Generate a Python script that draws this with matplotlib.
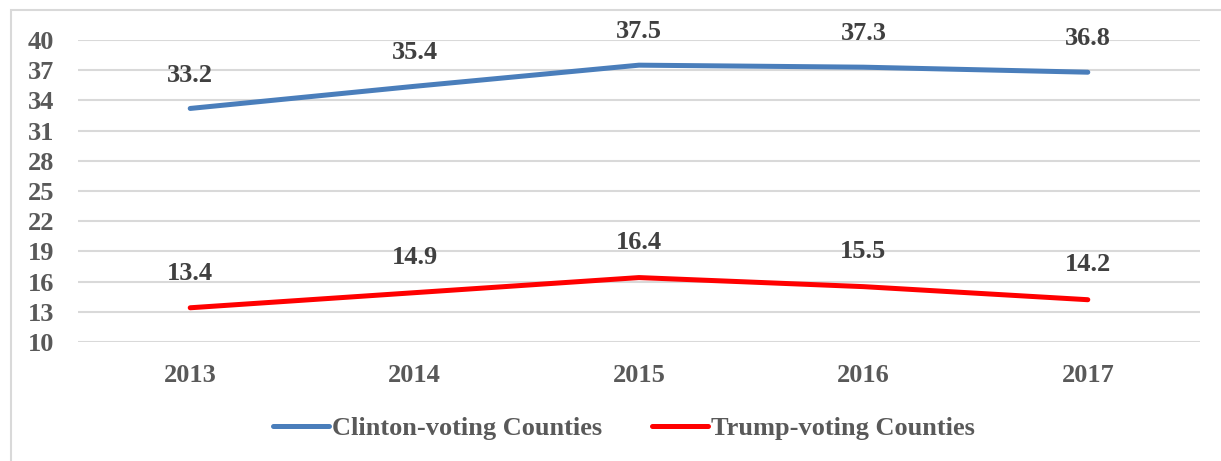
import matplotlib.pyplot as plt
from matplotlib.patches import Rectangle
from matplotlib.lines import Line2D

years = ["2013", "2014", "2015", "2016", "2017"]
clinton = [33.2, 35.4, 37.5, 37.3, 36.8]
trump = [13.4, 14.9, 16.4, 15.5, 14.2]
yticks = [10, 13, 16, 19, 22, 25, 28, 31, 34, 37, 40]

plt.rcParams['font.family'] = ['Liberation Serif', 'DejaVu Serif']
plt.rcParams['font.weight'] = 'bold'

W, H = 1221, 461
fig = plt.figure(figsize=(W / 100, H / 100), dpi=100)

# outer chart border (runs off the right/bottom edge like the reference crop)
fig.patches.append(Rectangle((11 / W, -0.1), 1.2, 1 - 10 / H + 0.1,
                             transform=fig.transFigure, fill=False,
                             edgecolor='#D9D9D9', linewidth=1.5))

ax = fig.add_axes([78 / W, 1 - 342 / H, (1200 - 78) / W, (342 - 40) / H])
x = list(range(len(years)))

ax.plot(x, clinton, color='#4A7EBB', linewidth=3.6, solid_capstyle='round')
ax.plot(x, trump, color='#FF0000', linewidth=3.6, solid_capstyle='round')

for xi, v in zip(x, clinton):
    ax.annotate(f"{v}", (xi, v), xytext=(0, 24), textcoords='offset points',
                ha='center', va='center', fontsize=19, fontweight='bold', color='#404040')
for xi, v in zip(x, trump):
    ax.annotate(f"{v}", (xi, v), xytext=(0, 25), textcoords='offset points',
                ha='center', va='center', fontsize=19, fontweight='bold', color='#404040')

ax.set_xlim(-0.5, len(years) - 0.5)
ax.set_ylim(10, 40)
ax.set_yticks(yticks)
ax.set_xticks(x)
ax.set_xticklabels(years)
ax.grid(axis='y', color='#D9D9D9', linewidth=1.5)
ax.set_axisbelow(True)
for s in ax.spines.values():
    s.set_visible(False)
ax.tick_params(length=0, labelsize=19, colors='#595959')
ax.tick_params(axis='y', pad=17)
ax.tick_params(axis='x', pad=16)
for lbl in ax.get_xticklabels() + ax.get_yticklabels():
    lbl.set_fontweight('bold')

handles = [Line2D([], [], color='#4A7EBB', linewidth=3.6, solid_capstyle='round'),
           Line2D([], [], color='#FF0000', linewidth=3.6, solid_capstyle='round')]
leg = fig.legend(handles, ["Clinton-voting Counties", "Trump-voting Counties"],
                 loc='center', bbox_to_anchor=(624 / W, 1 - 428 / H), ncol=2,
                 frameon=False, fontsize=19, handlelength=2.1, handletextpad=0.12,
                 columnspacing=1.9, labelcolor='#595959')
for t in leg.get_texts():
    t.set_fontweight('bold')

fig.savefig("out.png", dpi=100)
